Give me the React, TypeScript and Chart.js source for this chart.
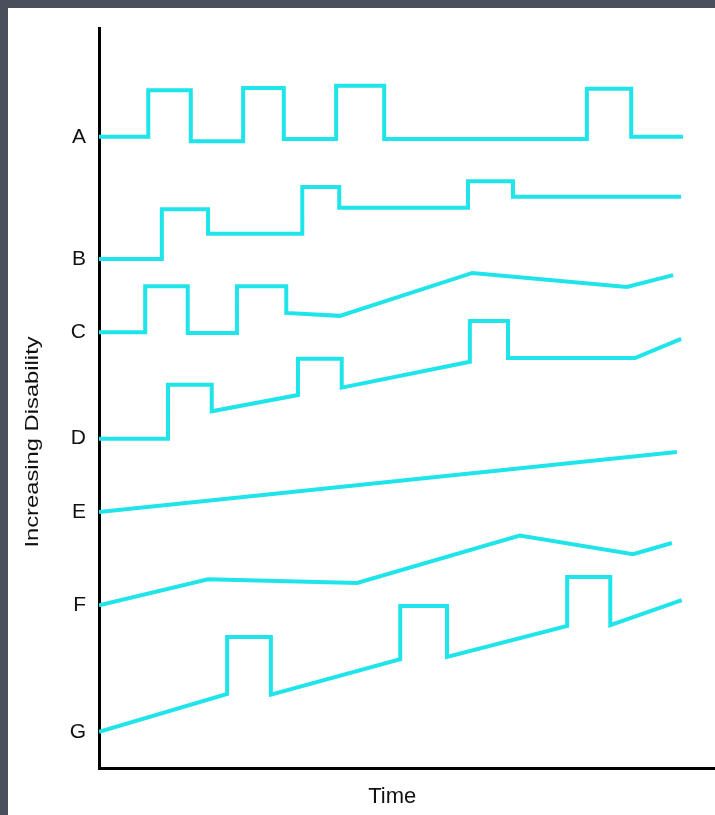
import React, { useEffect, useRef } from "react";
import { Chart, registerables } from "chart.js";

Chart.register(...registerables);

// Course categories (y-axis labels)
const categories = ["A", "B", "C", "D", "E", "F", "G"];

// Time (0–100) and disability level (0–100) for each course
const aTime = [0, 8.0, 8.0, 14.9, 14.9, 23.4, 23.4, 30.0, 30.0, 38.5, 38.5, 46.3, 46.3, 79.2, 79.2, 86.4, 86.4, 94.8];
const aLevel = [85.3, 85.3, 91.6, 91.6, 84.7, 84.7, 91.9, 91.9, 85.0, 85.0, 92.2, 92.2, 85.0, 85.0, 91.8, 91.8, 85.3, 85.3];

const bTime = [0, 10.2, 10.2, 17.7, 17.7, 33.0, 33.0, 39.0, 39.0, 59.9, 59.9, 67.2, 67.2, 94.5];
const bLevel = [68.8, 68.8, 75.5, 75.5, 72.2, 72.2, 78.5, 78.5, 75.7, 75.7, 79.3, 79.3, 77.2, 77.2];

const cTime = [0, 7.5, 7.5, 14.4, 14.4, 22.4, 22.4, 30.4, 30.4, 39.1, 60.6, 85.7, 93.2];
const cLevel = [58.9, 58.9, 65.1, 65.1, 58.8, 58.8, 65.1, 65.1, 61.5, 61.1, 66.9, 65.0, 66.6];

const dTime = [0, 11.2, 11.2, 18.3, 18.3, 32.3, 32.3, 39.4, 39.4, 60.2, 60.2, 66.4, 66.4, 87.0, 94.5];
const dLevel = [44.5, 44.5, 51.8, 51.8, 48.2, 50.4, 55.3, 55.3, 51.4, 54.9, 60.4, 60.4, 55.4, 55.4, 58.0];

const eTime = [0, 93.8];
const eLevel = [34.6, 42.7];

const fTime = [0, 17.7, 41.9, 68.3, 86.7, 93.0];
const fLevel = [22.0, 25.5, 25.0, 31.4, 28.9, 30.4];

const gTime = [0, 20.8, 20.8, 27.9, 27.9, 48.9, 48.9, 56.5, 56.5, 76.0, 76.0, 83.0, 83.0, 94.6];
const gLevel = [4.9, 10.0, 17.7, 17.7, 9.9, 14.7, 21.9, 21.9, 15.0, 19.2, 25.8, 25.8, 19.3, 22.7];

const xTitle = "Time";
const yTitle = "Increasing Disability";

const seriesTimes = [aTime, bTime, cTime, dTime, eTime, fTime, gTime];
const seriesLevels = [aLevel, bLevel, cLevel, dLevel, eLevel, fLevel, gLevel];

const LINE_COLOR = "#1fe4e9";
const FONT = '"Liberation Sans", Arial, Helvetica, sans-serif';

const titlePlugin = {
  id: "axisTitles",
  afterDraw(chart: any) {
    const { ctx, chartArea } = chart;
    ctx.save();
    ctx.fillStyle = "#111";
    ctx.textAlign = "center";
    ctx.textBaseline = "middle";
    ctx.font = `22px ${FONT}`;
    ctx.fillText(xTitle, chartArea.left + chartArea.width * 0.476, chartArea.bottom + 29);
    ctx.translate(25, (chartArea.top + chartArea.bottom) / 2 + 44);
    ctx.rotate(-Math.PI / 2);
    ctx.scale(1.25, 1);
    ctx.font = `19px ${FONT}`;
    ctx.fillText(yTitle, 0, 0);
    ctx.restore();
  },
};

export default function App() {
  const canvasRef = useRef<HTMLCanvasElement | null>(null);

  useEffect(() => {
    document.documentElement.style.background = "#4b4f5b";
    document.body.style.background = "#4b4f5b";
    document.body.style.margin = "8px 0 0 8px";

    const startLevels = seriesLevels.map((l) => l[0]);

    const datasets = categories.map((name, i) => ({
      label: name,
      data: seriesTimes[i].map((t, j) => ({ x: t, y: seriesLevels[i][j] })),
      borderColor: LINE_COLOR,
      backgroundColor: LINE_COLOR,
      borderWidth: 4,
      pointRadius: 0,
      tension: 0,
      fill: false,
      borderJoinStyle: "miter" as const,
      borderCapStyle: "butt" as const,
    }));

    const chart = new Chart(canvasRef.current as HTMLCanvasElement, {
      type: "line",
      data: { datasets },
      plugins: [titlePlugin],
      options: {
        animation: false,
        responsive: true,
        maintainAspectRatio: false,
        layout: { padding: { top: 20, right: 0, bottom: 0, left: 0 } },
        plugins: { legend: { display: false }, tooltip: { enabled: false } },
        scales: {
          x: {
            type: "linear",
            min: 0,
            max: 100,
            grid: { display: false, drawTicks: false },
            border: { display: true, color: "#000", width: 3 },
            ticks: { display: false },
            afterFit(scale: any) {
              scale.height = 47;
            },
          },
          y: {
            type: "linear",
            min: 0,
            max: 100,
            grid: { display: false, drawTicks: false },
            border: { display: true, color: "#000", width: 3 },
            afterBuildTicks(scale: any) {
              scale.ticks = startLevels.map((v) => ({ value: v }));
            },
            afterFit(scale: any) {
              scale.width = 91;
              scale.paddingTop = 0;
              scale.paddingBottom = 0;
            },
            ticks: {
              autoSkip: false,
              padding: 13,
              color: "#111",
              font: { family: FONT, size: 21 },
              callback: (value: any) => {
                const idx = startLevels.indexOf(Number(value));
                return idx >= 0 ? categories[idx] : "";
              },
            },
          },
        },
      },
    });
    return () => chart.destroy();
  }, []);

  return (
    <div style={{ width: 707, height: 807, background: "#fff", position: "relative" }}>
      <canvas ref={canvasRef} />
    </div>
  );
}
